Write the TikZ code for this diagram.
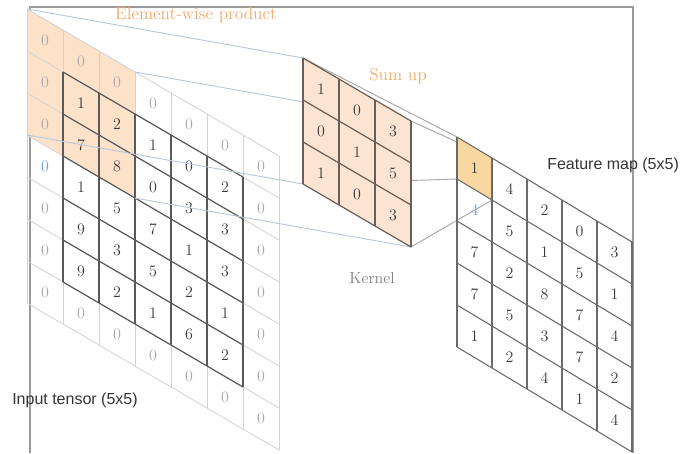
\documentclass[tikz,border=0pt]{standalone}
\usepackage{fontspec}
\newfontfamily\lblfont{Liberation Sans}
\definecolor{framec}{HTML}{9A9A9A}
\definecolor{padc}{HTML}{D2D2D2}
\definecolor{padnumc}{HTML}{A8A8A8}
\definecolor{innerc}{HTML}{5A5A5A}
\definecolor{numc}{HTML}{3A3A3A}
\definecolor{rfc}{HTML}{FCE2C8}
\definecolor{kfillc}{HTML}{FBE4D2}
\definecolor{klinec}{HTML}{6B5E55}
\definecolor{fmfillc}{HTML}{F8D7A0}
\definecolor{fmlinec}{HTML}{6A6A6A}
\definecolor{projac}{HTML}{B9C8D8}
\definecolor{projbc}{HTML}{A6A6A6}
\definecolor{otextc}{HTML}{EFA96B}
\definecolor{bluec}{HTML}{6FA0D8}
\definecolor{lblc}{HTML}{333333}
\tikzset{
  framebox/.style={draw=framec, line width=0.8pt},
  padline/.style={draw=padc, line width=0.6pt},
  inline/.style={draw=innerc, line width=0.9pt},
  kline/.style={draw=klinec, line width=0.9pt},
  fmline/.style={draw=fmlinec, line width=0.8pt},
  num/.style={font=\fontsize{12}{14}\selectfont, text=numc, inner sep=0pt},
  padnum/.style={num, text=padnumc},
  bluenum/.style={num, text=bluec},
  projA/.style={draw=projac, line width=0.7pt},
  projB/.style={draw=projbc, line width=0.7pt},
  otext/.style={font=\fontsize{13}{15}\selectfont, text=otextc, inner sep=0pt},
  ktext/.style={font=\fontsize{12}{14}\selectfont, text=gray, inner sep=0pt},
  stext/.style={font=\lblfont\fontsize{12}{14}\selectfont, text=lblc, inner sep=0pt}
}
\begin{document}
\begin{tikzpicture}[x=0.75pt,y=-0.75pt]
\useasboundingbox (0,0) rectangle (680,453);
\clip (0,0) rectangle (680,453);
% frame
\draw[framebox] (30,453) -- (30,7) -- (633,7) -- (633,453);

% ---------- input tensor (7x7 with padding) ----------
\coordinate (rfTL) at (27,9);
\coordinate (rfTR) at (135,72);
\coordinate (rfBR) at (135,198);
\coordinate (rfBL) at (27,135);
\fill[rfc] (rfTL) -- (rfTR) -- (rfBR) -- (rfBL) -- cycle;
\foreach \i in {0,...,7}
  \draw[padline] ({27+36*\i},{9+21*\i}) -- ({27+36*\i},{303+21*\i});
\foreach \j in {0,...,7}
  \draw[padline] (27,{9+42*\j}) -- (279,{156+42*\j});
\foreach \i in {1,...,6}
  \draw[inline] ({27+36*\i},{51+21*\i}) -- ({27+36*\i},{261+21*\i});
\foreach \j in {1,...,6}
  \draw[inline] (63,{30+42*\j}) -- (243,{135+42*\j});
\foreach \r/\vals in {0/{0,0,0,0,0,0,0},
                      1/{0,1,2,1,0,2,0},
                      2/{0,7,8,0,3,3,0},
                      3/{0,1,5,7,1,3,0},
                      4/{0,9,3,5,2,1,0},
                      5/{0,9,2,1,6,2,0},
                      6/{0,0,0,0,0,0,0}}{
  \foreach \v [count=\c from 0] in \vals {
    \pgfmathtruncatemacro\kind{(\r==3&&\c==0)?2:((\r==0||\r==6||\c==0||\c==6)?1:0)}
    \ifcase\kind \def\st{num}\or \def\st{padnum}\else \def\st{bluenum}\fi
    \node[\st] (in-\r-\c) at ({45+36*\c},{40.5+42*\r+21*\c}) {\v};
  }
}

% ---------- kernel and feature map corners ----------
\coordinate (kTL) at (303,58);
\coordinate (kTR) at (411,121);
\coordinate (kBR) at (411,247);
\coordinate (kBL) at (303,184);
\coordinate (fTL) at (457,137);
\coordinate (fTR) at (492,158);
\coordinate (fBR) at (492,200);
\coordinate (fBL) at (457,179);

% projection lines input -> kernel
\draw[projA] (rfTL) -- (kTL);
\draw[projA] (rfTR) -- (kTR);
\draw[projA] (rfBL) -- (kBL);
\draw[projA] (rfBR) -- (kBR);
% projection lines kernel -> feature map
\draw[projB] (kTL) -- (fTL);
\draw[projB] (kTR) -- (fTR);
\draw[projB] (kBL) -- (fBL);
\draw[projB] (kBR) -- (fBR);

% ---------- kernel ----------
\fill[kfillc] (kTL) -- (kTR) -- (kBR) -- (kBL) -- cycle;
\foreach \i in {0,...,3}
  \draw[kline] ({303+36*\i},{58+21*\i}) -- ({303+36*\i},{184+21*\i});
\foreach \j in {0,...,3}
  \draw[kline] (303,{58+42*\j}) -- (411,{121+42*\j});
\foreach \r/\vals in {0/{1,0,3},1/{0,1,5},2/{1,0,3}}{
  \foreach \v [count=\c from 0] in \vals {
    \node[num] (k-\r-\c) at ({321+36*\c},{89+42*\r+21*\c}) {\v};
  }
}

% ---------- feature map ----------
\fill[fmfillc] (fTL) -- (fTR) -- (fBR) -- (fBL) -- cycle;
\foreach \i in {0,...,5}
  \draw[fmline] ({457+35*\i},{137+21*\i}) -- ({457+35*\i},{347+21*\i});
\foreach \j in {0,...,5}
  \draw[fmline] (457,{137+42*\j}) -- (632,{242+42*\j});
\foreach \r/\vals in {0/{1,4,2,0,3},
                      1/{4,5,1,5,1},
                      2/{7,2,8,7,4},
                      3/{7,5,3,7,2},
                      4/{1,2,4,1,4}}{
  \foreach \v [count=\c from 0] in \vals {
    \pgfmathtruncatemacro\kind{(\r==1&&\c==0)?1:0}
    \ifcase\kind \def\st{num}\else \def\st{bluenum}\fi
    \node[\st] (fm-\r-\c) at ({474.5+35*\c},{168.5+42*\r+21*\c}) {\v};
  }
}

% ---------- labels ----------
\node[otext] (lblprod) at (196,15) {Element-wise product};
\node[otext] (lblsum) at (398,76) {Sum up};
\node[ktext] (lblk) at (372,278) {Kernel};
\node[stext, anchor=west] (lblfm) at (547,165) {Feature map (5x5)};
\node[stext, anchor=west] (lblin) at (12,400) {Input tensor (5x5)};
\end{tikzpicture}
\end{document}
